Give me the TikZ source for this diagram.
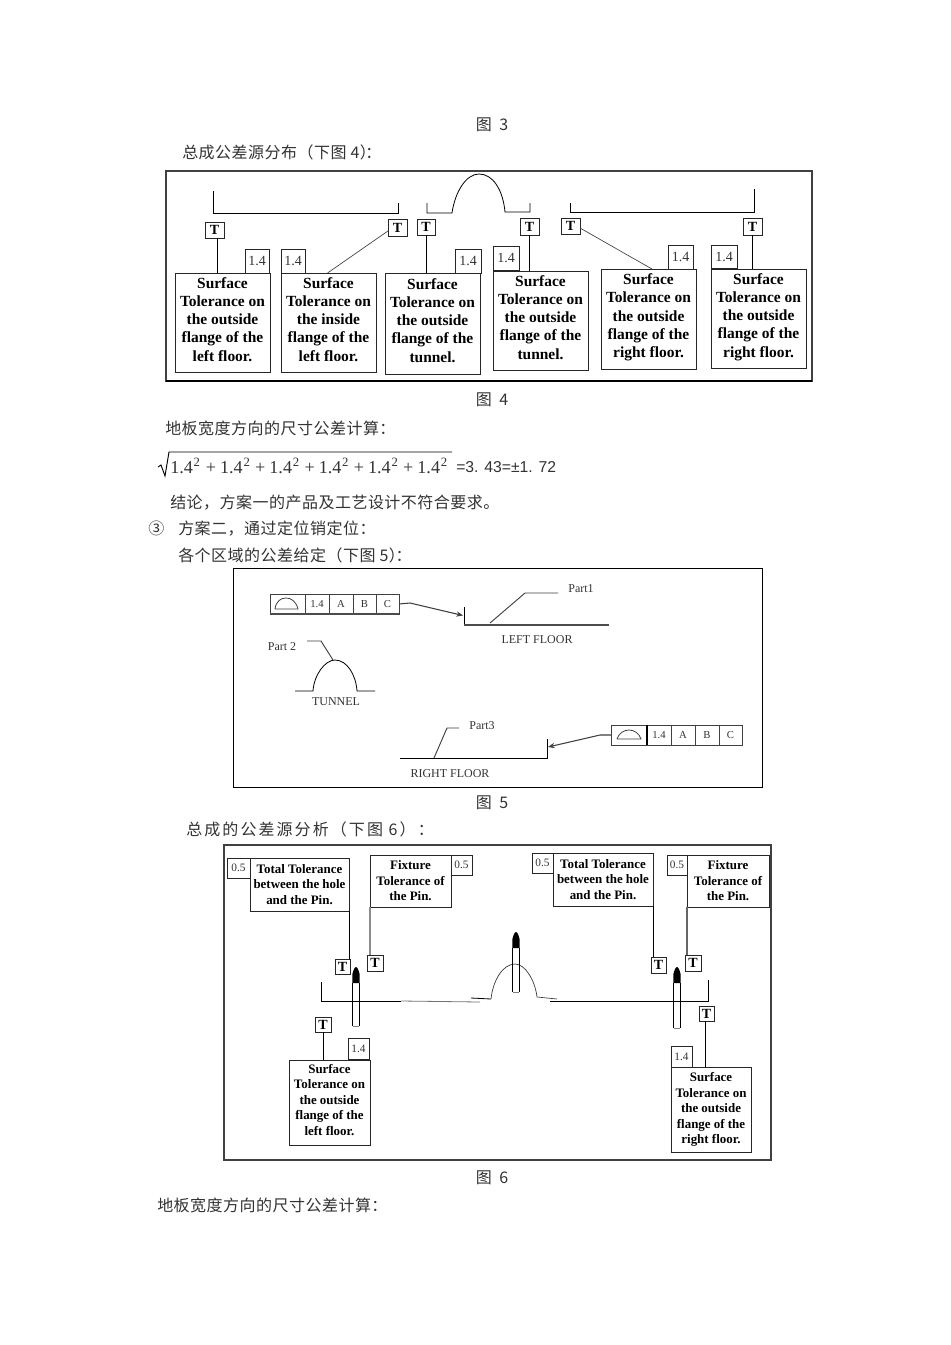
\documentclass[tikz,border=0pt]{standalone}
\usepackage{fontspec}
\setmainfont{Liberation Serif}
\newfontfamily\cjk{Noto Sans CJK SC}
\newfontfamily\numfont{Liberation Sans}
\usetikzlibrary{arrows.meta}
\definecolor{ink}{gray}{0.2}
\definecolor{edge}{gray}{0.25}
\tikzset{
  cell/.style={draw=black!85,line width=0.55pt,inner sep=0pt,outer sep=0pt,fill=white},
  tbox/.style={cell,font=\fontsize{10.5}{12}\selectfont\bfseries},
  numbox/.style={cell,text=ink,font=\fontsize{10.5}{12}\selectfont},
  numboxs/.style={cell,text=ink,font=\fontsize{8.5}{10}\selectfont},
  descbox/.style={cell,align=center,text depth=5pt,font=\fontsize{11.6}{13.7}\selectfont\bfseries},
  descboxs/.style={cell,align=center,font=\fontsize{9.7}{11.6}\selectfont\bfseries},
  frameA/.style={draw=edge,line width=0.8pt,inner sep=0pt,outer sep=0pt},
  frameB/.style={draw=black,line width=0.6pt,inner sep=0pt,outer sep=0pt},
  fcfcell/.style={draw=edge,line width=0.6pt,inner sep=0pt,outer sep=0pt,text=ink,font=\fontsize{8}{10}\selectfont},
  lead/.style={draw=black,line width=0.6pt},
  leadg/.style={draw=black!45,line width=0.8pt},
  leadt/.style={draw=edge,line width=0.5pt},
  outline/.style={draw=black,line width=0.6pt},
  floorg/.style={draw=black!70,line width=1.5pt},
  captxt/.style={text=ink,font=\cjk\fontsize{12}{14}\selectfont\addfontfeature{LetterSpace=3},anchor=west,inner sep=0pt},
  capm/.style={text=ink,font=\cjk\fontsize{12}{14}\selectfont,inner sep=0pt},
  partlbl/.style={text=ink,inner sep=0pt,font=\fontsize{9}{11}\selectfont}
}
\newcommand\bx[7][]{\node[#2,minimum width={(#5-#3)*0.75pt},minimum height={(#6-#4)*0.75pt},#1] (#7) at ({(#3+#5)/2},{(#4+#6)/2})}
\newcommand\surf{Surface\\Tolerance on\\}
\newcommand\term{+\hspace{3pt}1.4\hspace{0.6pt}\textsuperscript{2}}
\begin{document}
\begin{tikzpicture}[x=0.75pt,y=-0.75pt]
\useasboundingbox (0,0) rectangle (950,1345);
\fill[white] (0,0) rectangle (950,1345);

% captions
\node[capm] (c3) at (492,125) {图\hspace{3pt} 3};
\node[captxt] (h4) at (182,152) {总成公差源分布（下图 4）\hspace{-8pt}：};
\node[capm] (c4) at (492,400) {图\hspace{3pt} 4};
\node[captxt] (w1) at (165,428) {地板宽度方向的尺寸公差计算：};
\node[captxt] (con) at (170,503) {结论，方案一的产品及工艺设计不符合要求。};
\node[capm,anchor=west] (num3) at (148,528) {③};
\node[captxt] (p2) at (178,529) {方案二，通过定位销定位：};
\node[captxt] (h5) at (178,555) {各个区域的公差给定（下图 5）\hspace{-7pt}：};
\node[capm] (c5) at (492,803) {图\hspace{3pt} 5};
\node[captxt,font=\cjk\fontsize{12}{14}\selectfont\addfontfeature{LetterSpace=13}] (h6) at (186,829) {总成的公差源分析（下图 6）：};
\node[capm] (c6) at (492,1178) {图\hspace{3pt} 6};
\node[captxt] (w2) at (157,1205) {地板宽度方向的尺寸公差计算：};

% formula
\draw[black,line width=0.7pt] (158,467) -- (161,465) -- (165,476) -- (169,452) -- (452,452);
\node[anchor=west,inner sep=0pt,text=ink,font=\fontsize{13.6}{15}\selectfont] (fm) at (170,466) {\makebox[26.7pt][l]{1.4\hspace{0.6pt}\textsuperscript{2}}\makebox[37pt][l]{\term}\makebox[37pt][l]{\term}\makebox[37pt][l]{\term}\makebox[37pt][l]{\term}\term};
\node[anchor=west,inner sep=0pt,text=ink,font=\numfont\fontsize{11.8}{13}\selectfont] (fr) at (456,467) {=3. 43=±1. 72};

% ---- figure 4
\bx{frameA}{166}{171}{812}{381}{f4} {};
\draw[black,line width=1.2pt] (166,381) -- (812,381);
\draw[outline] (213,191) -- (213,213) -- (398,213) -- (398,203);
\draw[outline] (427,203) -- (427,213) -- (452,213) .. controls (455,192) and (466,174) .. (479,174) .. controls (493,174) and (503,190) .. (505,212) -- (530,212) -- (530,203);
\draw[outline] (570,203) -- (570,212) -- (754,212) -- (754,189);

\bx{tbox}{205}{222}{224}{238}{t1} {T};
\bx{tbox}{388}{219}{407}{236}{t2} {T};
\bx{tbox}{417}{219}{435}{235}{t3} {T};
\bx{tbox}{520}{218}{539}{235}{t4} {T};
\bx{tbox}{561}{218}{580}{234}{t5} {T};
\bx{tbox}{743}{218}{762}{235}{t6} {T};

\bx{numbox}{245}{249}{269}{273}{n1} {1.4};
\bx{numbox}{281}{249}{305}{273}{n2} {1.4};
\bx{numbox}{455}{249}{481}{273}{n3} {1.4};
\bx{numbox}{493}{246}{519}{270}{n4} {1.4};
\bx{numbox}{668}{245}{693}{269}{n5} {1.4};
\bx{numbox}{711}{245}{737}{268}{n6} {1.4};

\bx{descbox}{175}{273}{270}{372}{s1} {\surf the outside\\flange of the\\left floor.};
\bx{descbox}{281}{273}{376}{372}{s2} {\surf the inside\\flange of the\\left floor.};
\bx{descbox}{385}{273}{480}{374}{s3} {\surf the outside\\flange of the\\tunnel.};
\bx{descbox}{493}{271}{588}{370}{s4} {\surf the outside\\flange of the\\tunnel.};
\bx{descbox}{601}{269}{696}{369}{s5} {\surf the outside\\flange of the\\right floor.};
\bx{descbox}{711}{269}{806}{368}{s6} {\surf the outside\\flange of the\\right floor.};

\draw[lead] ([xshift=1.9pt]t1.south) -- ([xshift=1.9pt]t1.south |- s1.north);
\draw[leadt] ([yshift=-2.6pt]t2.west) -- ([xshift=-0.75pt]s2.north);
\draw[lead] (t3.south) -- (t3.south |- s3.north);
\draw[lead] (t4.south) -- (t4.south |- s4.north);
\draw[leadt] ([yshift=-1.5pt]t5.east) -- ([xshift=2.6pt]s5.north);
\draw[lead] (t6.south) -- (t6.south |- s6.north);

% ---- figure 5
\bx{frameB}{233}{568}{762}{787}{f5} {};

\bx{fcfcell}{270}{594}{305}{614}{a0} {};
\bx{fcfcell}{305}{594}{329}{614}{a1} {1.4};
\bx{fcfcell}{329}{594}{353}{614}{a2} {A};
\bx{fcfcell}{353}{594}{376}{614}{a3} {B};
\bx{fcfcell}{376}{594}{399}{614}{a4} {C};
\draw[black!70,line width=1pt] (a0.south west) -- (a4.south east);
\draw[outline,draw=edge] (275,609) -- (298,609) .. controls (296,601) and (291,598) .. (286,598) .. controls (281,598) and (276,601) .. (275,609);
\coordinate (wallA) at (463,615.5);
\draw[leadt,line width=0.8pt,-{Stealth[length=5pt,width=4pt]}] (a4.east) -- (410,603) -- (wallA);
\draw[outline] (464,607) -- (464,624);
\draw[floorg] (464,624.5) -- (609,624.5);
\draw[leadt,line width=0.7pt] (490,623) -- (525,593) -- (558,593);
\node[partlbl] (pa1) at (581,589) {Part1};
\node[partlbl] (lf) at (537,640) {LEFT FLOOR};

\node[partlbl] (pa2) at (282,647) {Part 2};
\draw[leadt,line width=0.7pt] (307,641) -- (321,641) -- (333,660);
\draw[outline] (295,691) -- (313,691) .. controls (314,675) and (325,660) .. (335,660) .. controls (347,660) and (356,675) .. (357,691) -- (375,691);
\node[partlbl] (tn) at (336,702) {TUNNEL};

\node[partlbl] (pa3) at (482,726) {Part3};
\draw[leadt,line width=0.7pt] (459,728) -- (447,728) -- (434,758);
\draw[outline] (400,758) -- (547,758) -- (547,739);
\node[partlbl] (rf) at (450,774) {RIGHT FLOOR};

\bx{fcfcell}{611}{725}{647}{745}{b0} {};
\bx{fcfcell}{647}{725}{671}{745}{b1} {1.4};
\bx{fcfcell}{671}{725}{695}{745}{b2} {A};
\bx{fcfcell}{695}{725}{719}{745}{b3} {B};
\bx{fcfcell}{719}{725}{742}{745}{b4} {C};
\draw[black,line width=0.9pt] (b1.north west) -- (b1.south west);
\draw[outline,draw=edge] (617,739) -- (641,739) .. controls (639,733) and (634,730) .. (629,730) .. controls (624,730) and (619,733) .. (617,739);
\coordinate (wallB) at (548,747);
\draw[leadt,line width=0.8pt,-{Stealth[length=5pt,width=4pt]}] (b0.west) -- (600,735) -- (wallB);

% ---- figure 6
\bx{frameA}{224}{845}{771}{1160}{f6} {};

\bx{numboxs}{227}{858}{250}{878}{z1} {0.5};
\bx{descboxs}{250}{858}{349}{911}{tt1} {Total Tolerance\\between the hole\\and the Pin.};
\bx{descboxs}{370}{855}{451}{907}{fx1} {Fixture\\Tolerance of\\the Pin.};
\bx{numboxs}{451}{855}{472}{875}{z2} {0.5};
\bx{numboxs}{532}{853}{553}{873}{z3} {0.5};
\bx{descboxs}{553}{853}{653}{906}{tt2} {Total Tolerance\\between the hole\\and the Pin.};
\bx{numboxs}{667}{855}{687}{875}{z4} {0.5};
\bx{descboxs}{687}{855}{769}{907}{fx2} {Fixture\\Tolerance of\\the Pin.};

\bx{tbox}{335}{959}{350}{974}{q1} {T};
\bx{tbox}{367}{955}{383}{971}{q2} {T};
\bx{tbox}{651}{957}{666}{973}{q3} {T};
\bx{tbox}{685}{955}{701}{971}{q4} {T};
\bx{tbox}{315}{1017}{331}{1032}{q5} {T};
\bx{tbox}{699}{1006}{714}{1021}{q6} {T};

\draw[lead] (tt1.south east) -- (tt1.south east |- q1.north);
\draw[leadg] (fx1.south west) -- (fx1.south west |- q2.north);
\draw[lead] (tt2.south east) -- (tt2.south east |- q3.north);
\draw[leadg,draw=black!60] (fx2.south west) -- (fx2.south west |- q4.north);

\bx{numboxs}{348}{1038}{369}{1059}{m1} {1.4};
\bx{numboxs}{671}{1046}{692}{1067}{m2} {1.4};
\bx[text depth=4.5pt]{descboxs}{289}{1060}{370}{1145}{u1} {\surf the outside\\flange of the\\left floor.};
\bx{descboxs}{671}{1067}{751}{1152}{u2} {\surf the outside\\flange of the\\right floor.};
\draw[lead] (q5.south) -- (q5.south |- u1.north);
\draw[lead] ([xshift=-0.9pt]q6.south) -- ([xshift=-0.9pt]q6.south |- u2.north);

% floor and tunnel
\draw[outline] (321,982) -- (321,1001) -- (401,1001);
\draw[outline,draw=black!55] (401,1001) -- (480,1002);
\draw[outline] (471,998) -- (491,999);
\draw[outline,draw=black!80,line width=0.5pt] (491,999) .. controls (493,980) and (503,964) .. (515,964) .. controls (525,964) and (535,980) .. (537,997) -- (557,999);
\draw[outline] (550,1001) -- (708,1001) -- (708,980);

% pins
\foreach \px/\ptop/\pbot in {356/967/1026, 516/932/992, 677/967/1028}{
  \draw[outline,line width=0.55pt] (\px-3.3,\ptop+16) -- (\px-3.3,\pbot);
  \draw[outline,line width=0.55pt] (\px+3.3,\ptop+16) -- (\px+3.3,\pbot);
  \draw[black!50,line width=0.5pt] (\px-3.3,\pbot) -- (\px+3.3,\pbot);
  \fill[black] (\px-3.6,\ptop+16) -- (\px-3.6,\ptop+7) .. controls (\px-2.5,\ptop+3) and (\px-1.5,\ptop) .. (\px,\ptop) .. controls (\px+1.5,\ptop) and (\px+2.5,\ptop+3) .. (\px+3.6,\ptop+7) -- (\px+3.6,\ptop+16) -- cycle;
}
\end{tikzpicture}
\end{document}
